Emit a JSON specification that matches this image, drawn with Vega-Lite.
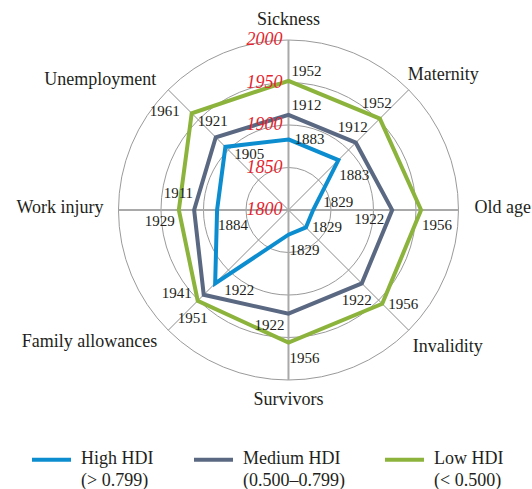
{
  "$schema": "https://vega.github.io/schema/vega-lite/v6.json",
  "width": 532,
  "height": 489,
  "autosize": {"type": "none"},
  "padding": 0,
  "background": "white",
  "config": {
    "view": {"stroke": null},
    "text": {"font": "Liberation Serif", "fontSize": 15, "color": "#231f20", "baseline": "middle"}
  },
  "datasets": {
    "series": [
      {"series": "High HDI", "category": "Sickness", "year": 1883},
      {"series": "High HDI", "category": "Maternity", "year": 1883},
      {"series": "High HDI", "category": "Old age", "year": 1829},
      {"series": "High HDI", "category": "Invalidity", "year": 1829},
      {"series": "High HDI", "category": "Survivors", "year": 1829},
      {"series": "High HDI", "category": "Family allowances", "year": 1922},
      {"series": "High HDI", "category": "Work injury", "year": 1884},
      {"series": "High HDI", "category": "Unemployment", "year": 1905},
      {"series": "Medium HDI", "category": "Sickness", "year": 1912},
      {"series": "Medium HDI", "category": "Maternity", "year": 1912},
      {"series": "Medium HDI", "category": "Old age", "year": 1922},
      {"series": "Medium HDI", "category": "Invalidity", "year": 1922},
      {"series": "Medium HDI", "category": "Survivors", "year": 1922},
      {"series": "Medium HDI", "category": "Family allowances", "year": 1941},
      {"series": "Medium HDI", "category": "Work injury", "year": 1911},
      {"series": "Medium HDI", "category": "Unemployment", "year": 1921},
      {"series": "Low HDI", "category": "Sickness", "year": 1952},
      {"series": "Low HDI", "category": "Maternity", "year": 1952},
      {"series": "Low HDI", "category": "Old age", "year": 1956},
      {"series": "Low HDI", "category": "Invalidity", "year": 1956},
      {"series": "Low HDI", "category": "Survivors", "year": 1956},
      {"series": "Low HDI", "category": "Family allowances", "year": 1951},
      {"series": "Low HDI", "category": "Work injury", "year": 1929},
      {"series": "Low HDI", "category": "Unemployment", "year": 1961}
    ],
    "cats": [
      {"category": "Sickness"}, {"category": "Maternity"}, {"category": "Old age"}, {"category": "Invalidity"},
      {"category": "Survivors"}, {"category": "Family allowances"}, {"category": "Work injury"}, {"category": "Unemployment"}
    ],
    "rings": [{"ring": 1850}, {"ring": 1900}, {"ring": 1950}, {"ring": 2000}],
    "ticks": [{"tick": 1800}, {"tick": 1850}, {"tick": 1900}, {"tick": 1950}, {"tick": 2000}]
  },
  "layer": [
    {
      "data": {"name": "rings"},
      "transform": [{"calculate": "datum.ring - 1800", "as": "rr"}],
      "mark": {"type": "point", "shape": "circle", "filled": false, "stroke": "#9a9a9a", "strokeWidth": 1, "opacity": 1},
      "encoding": {
        "x": {"datum": 0, "type": "quantitative", "scale": {"domain": [-339.4, 286.5], "nice": false, "zero": false}, "axis": null},
        "y": {"datum": 0, "type": "quantitative", "scale": {"domain": [-328.2, 247.06], "nice": false, "zero": false}, "axis": null},
        "size": {"field": "rr", "type": "quantitative", "scale": {"type": "pow", "exponent": 2, "domain": [0, 200], "range": [0, 115600]}, "legend": null}
      }
    },
    {
      "data": {"name": "cats"},
      "transform": [
        {"calculate": "indexof(['Sickness','Maternity','Old age','Invalidity','Survivors','Family allowances','Work injury','Unemployment'], datum.category)", "as": "idx"},
        {"calculate": "datum.idx * PI / 4", "as": "ang"},
        {"calculate": "200 * sin(datum.ang)", "as": "ex"},
        {"calculate": "200 * cos(datum.ang)", "as": "ey"}
      ],
      "encoding": {
        "x": {"field": "ex", "type": "quantitative", "scale": {"domain": [-339.4, 286.5], "nice": false, "zero": false}, "axis": null},
        "y": {"field": "ey", "type": "quantitative", "scale": {"domain": [-328.2, 247.06], "nice": false, "zero": false}, "axis": null}
      },
      "layer": [
        {
          "transform": [{"filter": "datum.idx % 2 == 1"}],
          "mark": {"type": "rule", "stroke": "#8c8c8c", "strokeWidth": 1},
          "encoding": {
            "x": {"datum": 0, "type": "quantitative", "scale": {"domain": [-339.4, 286.5], "nice": false, "zero": false}, "axis": null},
            "y": {"datum": 0, "type": "quantitative", "scale": {"domain": [-328.2, 247.06], "nice": false, "zero": false}, "axis": null},
            "x2": {"field": "ex"},
            "y2": {"field": "ey"}
          }
        },
        {
          "transform": [{"filter": "datum.idx % 2 == 0"}],
          "mark": {"type": "rule", "stroke": "#a9a9a9", "strokeWidth": 2},
          "encoding": {
            "x": {"datum": 0, "type": "quantitative", "scale": {"domain": [-339.4, 286.5], "nice": false, "zero": false}, "axis": null},
            "y": {"datum": 0, "type": "quantitative", "scale": {"domain": [-328.2, 247.06], "nice": false, "zero": false}, "axis": null},
            "x2": {"field": "ex"},
            "y2": {"field": "ey"}
          }
        },
        {"transform": [{"filter": "datum.category == 'Sickness'"}], "mark": {"type": "text", "fontSize": 18, "align": "center", "dy": -20}, "encoding": {"text": {"field": "category"}}},
        {"transform": [{"filter": "datum.category == 'Survivors'"}], "mark": {"type": "text", "fontSize": 18, "align": "center", "dy": 20}, "encoding": {"text": {"field": "category"}}},
        {"transform": [{"filter": "datum.category == 'Old age'"}], "mark": {"type": "text", "fontSize": 18, "align": "left", "dx": 16, "dy": -2}, "encoding": {"text": {"field": "category"}}},
        {"transform": [{"filter": "datum.category == 'Work injury'"}], "mark": {"type": "text", "fontSize": 18, "align": "right", "dx": -15, "dy": -2}, "encoding": {"text": {"field": "category"}}},
        {"transform": [{"filter": "datum.category == 'Maternity'"}], "mark": {"type": "text", "fontSize": 18, "align": "left", "dx": -1, "dy": -15}, "encoding": {"text": {"field": "category"}}},
        {"transform": [{"filter": "datum.category == 'Invalidity'"}], "mark": {"type": "text", "fontSize": 18, "align": "left", "dx": 4, "dy": 17}, "encoding": {"text": {"field": "category"}}},
        {"transform": [{"filter": "datum.category == 'Family allowances'"}], "mark": {"type": "text", "fontSize": 18, "align": "right", "dx": -11, "dy": 12}, "encoding": {"text": {"field": "category"}}},
        {"transform": [{"filter": "datum.category == 'Unemployment'"}], "mark": {"type": "text", "fontSize": 18, "align": "right", "dx": -12, "dy": -10}, "encoding": {"text": {"field": "category"}}}
      ]
    },
    {
      "data": {"name": "series"},
      "transform": [
        {"calculate": "indexof(['Sickness','Maternity','Old age','Invalidity','Survivors','Family allowances','Work injury','Unemployment'], datum.category)", "as": "idx"},
        {"calculate": "datum.idx * PI / 4", "as": "ang"},
        {"calculate": "(datum.year - 1800) * sin(datum.ang)", "as": "px"},
        {"calculate": "(datum.year - 1800) * cos(datum.ang)", "as": "py"},
        {"calculate": "datum.series + '|' + datum.category", "as": "key"}
      ],
      "encoding": {
        "x": {"field": "px", "type": "quantitative", "scale": {"domain": [-339.4, 286.5], "nice": false, "zero": false}, "axis": null},
        "y": {"field": "py", "type": "quantitative", "scale": {"domain": [-328.2, 247.06], "nice": false, "zero": false}, "axis": null}
      },
      "layer": [
        {
          "mark": {"type": "line", "interpolate": "linear-closed", "strokeWidth": 4, "strokeJoin": "miter"},
          "encoding": {
            "color": {
              "field": "series", "type": "nominal",
              "scale": {"domain": ["High HDI", "Medium HDI", "Low HDI"], "range": ["#0b8dcf", "#5a6882", "#8cb33b"]},
              "legend": {
                "title": null, "orient": "none", "legendX": 30, "legendY": 438, "direction": "horizontal",
                "symbolType": "stroke", "symbolStrokeWidth": 4, "symbolSize": 1521,
                "labelFont": "Liberation Serif", "labelFontSize": 18, "labelColor": "#231f20",
                "labelOffset": 8, "columnPadding": 32, "labelLimit": 300, "labelBaseline": "top",
                "labelExpr": "datum.label == 'High HDI' ? ['High HDI', '(> 0.799)'] : datum.label == 'Medium HDI' ? ['Medium HDI', '(0.500–0.799)'] : ['Low HDI', '(< 0.500)']",
                "encode": {"labels": {"update": {"dy": {"value": -10}, "lineHeight": {"value": 22}}}}
              }
            },
            "order": {"field": "idx", "type": "quantitative"}
          }
        },
        {"transform": [{"filter": "indexof(['High HDI|Sickness','Low HDI|Invalidity','High HDI|Invalidity'], datum.key) >= 0"}], "mark": {"type": "text", "align": "left", "dx": 6, "dy": 0}, "encoding": {"text": {"field": "year", "type": "quantitative", "format": "d"}}},
        {"transform": [{"filter": "indexof(['High HDI|Family allowances','High HDI|Unemployment'], datum.key) >= 0"}], "mark": {"type": "text", "align": "left", "dx": 9, "dy": 7}, "encoding": {"text": {"field": "year", "type": "quantitative", "format": "d"}}},
        {"transform": [{"filter": "indexof(['Low HDI|Sickness','Medium HDI|Sickness'], datum.key) >= 0"}], "mark": {"type": "text", "align": "left", "dx": 3, "dy": -10}, "encoding": {"text": {"field": "year", "type": "quantitative", "format": "d"}}},
        {"transform": [{"filter": "datum.key == 'High HDI|Old age'"}], "mark": {"type": "text", "align": "left", "dx": 10, "dy": -8}, "encoding": {"text": {"field": "year", "type": "quantitative", "format": "d"}}},
        {"transform": [{"filter": "indexof(['Low HDI|Maternity','Medium HDI|Maternity','Medium HDI|Unemployment'], datum.key) >= 0"}], "mark": {"type": "text", "align": "center", "dx": -3, "dy": -16}, "encoding": {"text": {"field": "year", "type": "quantitative", "format": "d"}}},
        {"transform": [{"filter": "indexof(['Low HDI|Old age','Low HDI|Survivors','High HDI|Survivors','High HDI|Maternity','High HDI|Work injury'], datum.key) >= 0"}], "mark": {"type": "text", "align": "left", "dx": 1, "dy": 15}, "encoding": {"text": {"field": "year", "type": "quantitative", "format": "d"}}},
        {"transform": [{"filter": "indexof(['Medium HDI|Survivors','Low HDI|Work injury'], datum.key) >= 0"}], "mark": {"type": "text", "align": "right", "dx": -4, "dy": 11}, "encoding": {"text": {"field": "year", "type": "quantitative", "format": "d"}}},
        {"transform": [{"filter": "datum.key == 'Medium HDI|Old age'"}], "mark": {"type": "text", "align": "right", "dx": -8, "dy": 9}, "encoding": {"text": {"field": "year", "type": "quantitative", "format": "d"}}},
        {"transform": [{"filter": "indexof(['Medium HDI|Invalidity','Low HDI|Family allowances'], datum.key) >= 0"}], "mark": {"type": "text", "align": "center", "dx": -5, "dy": 17}, "encoding": {"text": {"field": "year", "type": "quantitative", "format": "d"}}},
        {"transform": [{"filter": "indexof(['Medium HDI|Family allowances','Low HDI|Unemployment'], datum.key) >= 0"}], "mark": {"type": "text", "align": "right", "dx": -12, "dy": -2}, "encoding": {"text": {"field": "year", "type": "quantitative", "format": "d"}}},
        {"transform": [{"filter": "datum.key == 'Medium HDI|Work injury'"}], "mark": {"type": "text", "align": "right", "dx": -1, "dy": -17}, "encoding": {"text": {"field": "year", "type": "quantitative", "format": "d"}}}
      ]
    },
    {
      "data": {"name": "ticks"},
      "transform": [{"calculate": "datum.tick - 1800", "as": "rr"}],
      "mark": {"type": "text", "align": "right", "dx": -6, "fontSize": 18, "fontStyle": "italic", "color": "#e3262f"},
      "encoding": {
        "x": {"datum": 0, "type": "quantitative", "scale": {"domain": [-339.4, 286.5], "nice": false, "zero": false}, "axis": null},
        "y": {"field": "rr", "type": "quantitative", "scale": {"domain": [-328.2, 247.06], "nice": false, "zero": false}, "axis": null},
        "text": {"field": "tick", "type": "quantitative", "format": "d"}
      }
    }
  ]
}
